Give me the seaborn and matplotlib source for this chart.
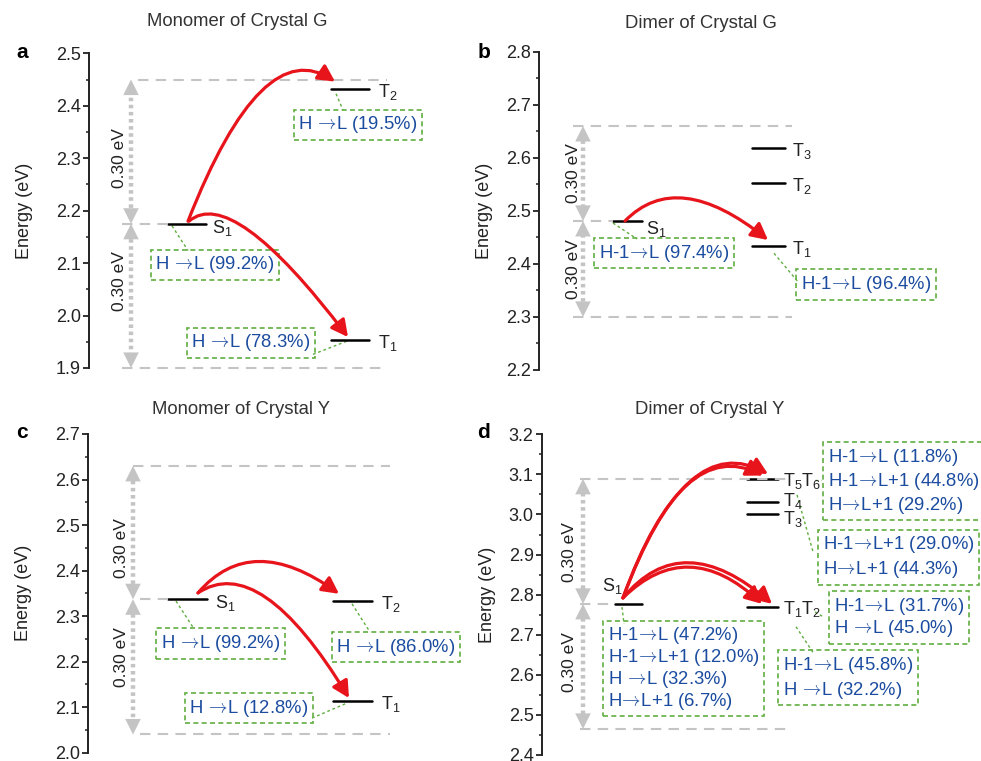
import matplotlib
matplotlib.use("Agg")
import matplotlib.pyplot as plt
import matplotlib.path as mpath
from matplotlib.patches import FancyArrowPatch
from matplotlib.ticker import MultipleLocator
import pandas as pd
import seaborn as sns

# ---- data (eV) ----
a_states = ["S$_1$", "T$_2$", "T$_1$"]
a_energy = [2.175, 2.431, 1.953]
a_window = [1.90, 2.45]
a_trans = ["H →L (99.2%)", "H →L (19.5%)", "H →L (78.3%)"]

b_states = ["S$_1$", "T$_3$", "T$_2$", "T$_1$"]
b_energy = [2.481, 2.619, 2.552, 2.434]
b_window = [2.30, 2.66]
b_trans = ["H-1→L (97.4%)", "H-1→L (96.4%)"]

c_states = ["S$_1$", "T$_2$", "T$_1$"]
c_energy = [2.337, 2.333, 2.114]
c_window = [2.04, 2.63]
c_trans = ["H →L (99.2%)", "H →L (86.0%)", "H →L (12.8%)"]

d_states = ["S$_1$", "T$_5$T$_6$", "T$_4$", "T$_3$", "T$_1$T$_2$"]
d_energy = [2.777, 3.089, 3.030, 3.000, 2.769]
d_window = [2.465, 3.089]
d_trans = [
    "H-1→L (47.2%)\nH-1→L+1 (12.0%)\nH →L (32.3%)\nH→L+1 (6.7%)",
    "H-1→L (11.8%)\nH-1→L+1 (44.8%)\nH→L+1 (29.2%)",
    "H-1→L+1 (29.0%)\nH→L+1 (44.3%)",
    "H-1→L (31.7%)\nH →L (45.0%)",
    "H-1→L (45.8%)\nH →L (32.2%)",
]

gap_label = "0.30 eV"
titles = ["Monomer of Crystal G", "Dimer of Crystal G", "Monomer of Crystal Y", "Dimer of Crystal Y"]

RED = "#e8141b"
GREEN = "#5fae3e"
BLUE = "#1b4c9f"
GREY = "#c4c4c4"
INK = "#222222"

sns.set_theme(style="ticks")
plt.rcParams["font.family"] = ["Liberation Sans", "DejaVu Sans"]
plt.rcParams["mathtext.fontset"] = "custom"
plt.rcParams["mathtext.rm"] = "Liberation Sans"
plt.rcParams["mathtext.it"] = "Liberation Sans"
plt.rcParams["font.size"] = 13

W, H = 981, 761
fig = plt.figure(figsize=(W / 100, H / 100), dpi=100)


def make_axes(x0, ytop, ybot, width):
    ax = fig.add_axes([x0 / W, 1 - ybot / H, width / W, (ybot - ytop) / H])
    ax.patch.set_alpha(0)
    return ax


def finish_axes(ax, ylim, width, labelpad):
    ax.set_xlim(0, width)
    ax.set_ylim(*ylim)
    sns.despine(ax=ax, bottom=True)
    ax.set_xticks([])
    ax.set_xlabel("")
    ax.yaxis.set_major_locator(MultipleLocator(0.1))
    ax.yaxis.set_minor_locator(MultipleLocator(0.05))
    ax.yaxis.set_major_formatter(lambda v, p: f"{v:.1f}")
    ax.tick_params(axis="y", which="major", length=4, width=1.3, direction="out",
                   labelsize=13, pad=2, colors=INK)
    ax.tick_params(axis="y", which="minor", length=2.5, width=1.1, direction="out", colors=INK)
    ax.spines["left"].set_linewidth(1.4)
    ax.spines["left"].set_color(INK)
    ax.set_ylabel("Energy (eV)", fontsize=13, labelpad=labelpad, color=INK)


def draw_levels(ax, states, energy, xr, label_off):
    rows = []
    for s, e, (x0, x1) in zip(states, energy, xr):
        rows.append(dict(state=s, x=x0, E=e))
        rows.append(dict(state=s, x=x1, E=e))
    df = pd.DataFrame(rows)
    sns.lineplot(data=df, x="x", y="E", units="state", estimator=None,
                 color="black", lw=1.8, ax=ax, legend=False)
    for s, e, (x0, x1), off in zip(states, energy, xr, label_off):
        if off is None:
            continue
        ax.annotate(s, xy=(x1, e), xytext=off, textcoords="offset pixels",
                    ha="left", va="center", fontsize=13, color=INK, annotation_clip=False)


def draw_window(ax, e_mid, window, xa, x_lo, x_hi, x_mid0, x_up0, x_s1, lab_x, lab_y):
    lo, hi = window
    kw = dict(color=GREY, lw=1.5, ls=(0, (5, 3.5)), zorder=3, clip_on=False)
    ax.plot([x_up0, x_hi], [hi, hi], **kw)
    ax.plot([x_lo, x_hi], [lo, lo], **kw)
    ax.plot([x_mid0, x_s1], [e_mid, e_mid], **kw)
    for a, b in [(e_mid, hi), (e_mid, lo)]:
        ax.plot([xa, xa], [a + (b - a) * 0.06, b - (b - a) * 0.06], color=GREY, lw=3.2,
                ls=(0, (0.8, 0.8)), zorder=2, solid_capstyle="butt")
        for tip, tail in [(b, a), (a, b)]:
            ax.annotate("", xy=(xa, tip), xytext=(xa, (tip + tail) / 2),
                        arrowprops=dict(arrowstyle="-|>,head_length=0.8,head_width=0.4",
                                        mutation_scale=14, lw=0, color=GREY,
                                        shrinkA=0, shrinkB=0), zorder=2)
    for y in lab_y:
        ax.text(lab_x, y, gap_label, rotation=90, ha="center", va="center",
                fontsize=12.5, color=INK)


def draw_boxes(ax, texts, pos, ha="center", spacing=None):
    for i, (t, (x, y)) in enumerate(zip(texts, pos)):
        ls = 1.2 if spacing is None else spacing[i]
        t = t.replace("→", r"$\!\rightarrow\!$")
        ax.text(x, y, t, ha=ha, va="center", color=BLUE, fontsize=13.3,
                math_fontfamily="cm",
                linespacing=ls, multialignment="left", clip_on=False, zorder=4,
                bbox=dict(boxstyle="square,pad=0.25", fc="none", ec=GREEN,
                          lw=1.2, ls=(0, (3, 2))))


def draw_links(ax, links):
    for (x0, y0), (x1, y1) in links:
        ax.plot([x0, x1], [y0, y1], color=GREEN, lw=1.0, ls=(0, (2, 2)),
                clip_on=False, zorder=1)


def red_arrow(ax, p0, c, p2):
    path = mpath.Path([p0, c, p2], [mpath.Path.MOVETO, mpath.Path.CURVE3, mpath.Path.CURVE3])
    arr = FancyArrowPatch(path=path, arrowstyle="-|>,head_length=0.5,head_width=0.26",
                          mutation_scale=20, lw=2.3, color=RED, zorder=5, clip_on=False)
    ax.add_patch(arr)


# ---------- panel a ----------
ax = make_axes(89, 53.3, 368, 330)
a_xr = [(79, 117), (242, 280), (242, 280)]
draw_levels(ax, a_states, a_energy, a_xr, [(6, -4), (9, -3), (9, -3)])
draw_window(ax, a_energy[0], a_window, 42, 33, 298, 33, 49, a_xr[0][0], 30, [2.30, 2.065])
draw_links(ax, [((83, 2.171), (99, 2.124)), ((247, 2.423), (254, 2.392)),
                ((224, 1.926), (259, 1.952))])
draw_boxes(ax, a_trans, [(126, 2.097), (269, 2.364), (162, 1.948)])
red_arrow(ax, (99, a_energy[0] + 0.005), (173, 2.54), (246, a_window[1] - 0.004))
red_arrow(ax, (100, a_energy[0] + 0.005), (143, 2.25), (259, a_energy[2] + 0.006))
finish_axes(ax, (1.9, 2.5), 330, 16)

# ---------- panel b ----------
ax = make_axes(539, 51.7, 370, 400)
b_xr = [(74, 103), (213, 246), (213, 246), (213, 246)]
draw_levels(ax, b_states, b_energy, b_xr, [(4, -8), (7, -3), (7, -3), (7, -3)])
draw_window(ax, b_energy[0], b_window, 44, 34, 253, 34, 34, b_xr[0][0], 35,
            [(b_window[1] + b_energy[0]) / 2, (b_window[0] + b_energy[0]) / 2])
draw_links(ax, [((74, 2.477), (98, 2.447)), ((235, 2.42), (260, 2.364))])
draw_boxes(ax, b_trans, [(125, 2.420), (327, 2.361)])
red_arrow(ax, (86, b_energy[0]), (138.5, 2.582), (229, b_energy[3] + 0.011))
finish_axes(ax, (2.2, 2.8), 400, 9)

# ---------- panel c ----------
ax = make_axes(88, 434, 752.7, 380)
c_xr = [(80, 119), (245, 284), (245, 284)]
draw_levels(ax, c_states, c_energy, c_xr, [(8, -4), (9, -3), (9, -3)])
draw_window(ax, c_energy[0], c_window, 45, 52, 302, 52, 45, c_xr[0][0], 34, [2.45, 2.21])
draw_links(ax, [((88, 2.333), (106, 2.272)), ((264, 2.327), (282, 2.265)),
                ((224, 2.076), (259, 2.109))])
draw_boxes(ax, c_trans, [(132.5, 2.240), (308, 2.232), (161, 2.098)])
red_arrow(ax, (110, c_energy[0] + 0.014), (163.5, 2.488), (251, c_energy[1] + 0.016))
red_arrow(ax, (110, c_energy[0] + 0.014), (172, 2.442), (261, c_energy[2] + 0.006))
finish_axes(ax, (2.0, 2.7), 380, 16)

# ---------- panel d ----------
ax = make_axes(542, 434.3, 755, 439)
d_xr = [(73, 100), (205, 236), (205, 236), (205, 236), (205, 236)]
draw_levels(ax, d_states, d_energy, d_xr, [None, (5, -2), (5, 1), (5, -5), (5, -2)])
ax.annotate(d_states[0], xy=(d_xr[0][0], d_energy[0]), xytext=(-13, 18),
            textcoords="offset pixels", ha="left", va="center", fontsize=13, color=INK)
draw_window(ax, d_energy[0], d_window, 41, 38, 250, 38, 38, d_xr[0][0], 28, [2.907, 2.633])
draw_links(ax, [((80, 2.769), (82, 2.727)), ((273, 3.085), (279, 3.085)),
                ((255, 3.049), (271, 2.907)), ((273, 2.757), (281, 2.745)),
                ((254, 2.72), (271, 2.656))])
draw_boxes(ax, d_trans, [(66, 2.616), (286, 3.083), (281, 2.893), (292, 2.743), (241, 2.593)],
           ha="left", spacing=[1.05, 1.2, 1.28, 1.1, 1.28])
s1 = (81, d_energy[0] + 0.015)
red_arrow(ax, s1, (144, 3.216), (226, d_energy[1] + 0.012))
red_arrow(ax, s1, (140, 3.200), (221, d_energy[1] + 0.008))
red_arrow(ax, s1, (140.5, 2.972), (230, d_energy[4] + 0.008))
red_arrow(ax, s1, (145.5, 2.950), (220, d_energy[4] + 0.008))
finish_axes(ax, (2.4, 3.2), 439, 9)

# ---------- titles and panel letters ----------
for t, (x, y) in zip(titles, [(237, 22), (701, 24), (241, 410), (710, 410)]):
    fig.text(x / W, 1 - y / H, t, ha="center", va="center", fontsize=13.3, color="#333333")
for l, (x, y) in zip("abcd", [(22, 53), (484, 52), (22, 432), (484, 432)]):
    fig.text(x / W, 1 - y / H, l, ha="center", va="center", fontsize=15,
             fontweight="bold", color="black")

fig.savefig("out.png", dpi=100)
